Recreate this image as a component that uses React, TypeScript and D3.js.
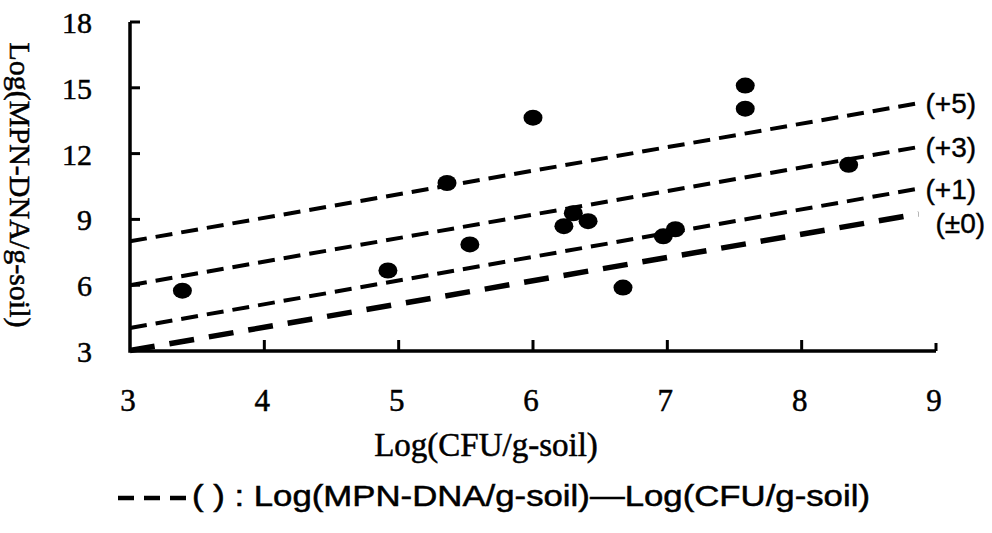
import React from 'react';
import * as d3 from 'd3';

// values
const cfuLog = [3.39, 4.92, 5.36, 5.53, 6.0, 6.23, 6.3, 6.41, 6.67, 6.97, 7.06, 7.58, 7.58, 8.35];
const mpnLog = [5.75, 6.67, 10.66, 7.86, 13.64, 8.69, 9.28, 8.92, 5.89, 8.23, 8.55, 15.1, 14.05, 11.49];

const xTicks = [3, 4, 5, 6, 7, 8, 9];
const yTicks = [3, 6, 9, 12, 15, 18];

// reference lines (difference of the logs)
const lineLabels = ['(+5)', '(+3)', '(+1)', '(\u00b10)'];
const lineStartX = 3;
const lineStartY = [8, 6, 4.05, 3.02];
const lineEndX = 8.87;
const lineEndY = [14.3, 12.3, 10.4, 9.25];

const serif = '"Liberation Serif", "Times New Roman", serif';
const sans = '"Liberation Sans", Arial, sans-serif';

export default function App() {
    const x = d3.scaleLinear().domain([3, 9]).range([130, 936]);
    const y = d3.scaleLinear().domain([3, 18]).range([351, 22]);

    return (
        <svg width={992} height={533} style={{ position: 'absolute', left: 0, top: 0, background: '#fff' }}>
            {/* reference lines */}
            {lineLabels.map((lab, i) => {
                const zero = i === lineLabels.length - 1;
                const x1 = x(lineEndX);
                const y1 = y(lineEndY[i]);
                return (
                    <g key={lab}>
                        <line
                            x1={x(lineStartX)} y1={y(lineStartY[i])} x2={x1} y2={y1}
                            stroke="#000"
                            strokeWidth={zero ? 5.5 : 4}
                            strokeDasharray={zero ? '25,15' : '17,9'}
                        />
                        <text
                            x={x1 + (zero ? 17 : 7)} y={y1 + (zero ? 19 : 10)}
                            fontFamily={sans} fontSize={28} fill="#000" stroke="#000" strokeWidth={0.4}
                        >{lab}</text>
                    </g>
                );
            })}

            {/* points */}
            {cfuLog.map((c, i) => (
                <ellipse key={i} cx={x(c)} cy={y(mpnLog[i])} rx={9.5} ry={8} fill="#000" />
            ))}

            {/* axes */}
            <path
                d={`M${x(3)},${y(18)}V${y(3)}H${x(9)}`}
                fill="none" stroke="#000" strokeWidth={3.5}
            />
            {yTicks.filter(t => t > 3).map(t => (
                <line key={t} x1={x(3)} x2={x(3) + 10} y1={y(t)} y2={y(t)} stroke="#000" strokeWidth={3} />
            ))}
            {xTicks.filter(t => t > 3).map(t => (
                <line key={t} x1={x(t)} x2={x(t)} y1={y(3)} y2={y(3) - (t === 9 ? 8 : 11)} stroke="#000" strokeWidth={3} />
            ))}
            <g fontFamily={serif} fill="#000" stroke="#000" strokeWidth={0.5}>
                {yTicks.map(t => (
                    <text key={t} x={92} y={y(t) + 11} textAnchor="end" fontSize={30}>{t}</text>
                ))}
                {xTicks.map(t => (
                    <text key={t} x={x(t) - 2} y={411} textAnchor="middle" fontSize={31}>{t}</text>
                ))}
                <text x={486} y={456} textAnchor="middle" fontSize={33}>Log(CFU/g-soil)</text>
                <text transform="translate(10,185) rotate(90)" textAnchor="middle" fontSize={30}>
                    Log(MPN-DNA/g-soil)
                </text>
            </g>

            {/* legend */}
            <line x1={118} x2={186} y1={498} y2={498} stroke="#000" strokeWidth={4.5} strokeDasharray="16,10" />
            <text
                x={192} y={506} fontFamily={sans} fontSize={29} fill="#000" stroke="#000" strokeWidth={0.5}
                textLength={678} lengthAdjust="spacingAndGlyphs"
            >
                ( ) : Log(MPN-DNA/g-soil){'\u2014'}Log(CFU/g-soil)
            </text>
        </svg>
    );
}
